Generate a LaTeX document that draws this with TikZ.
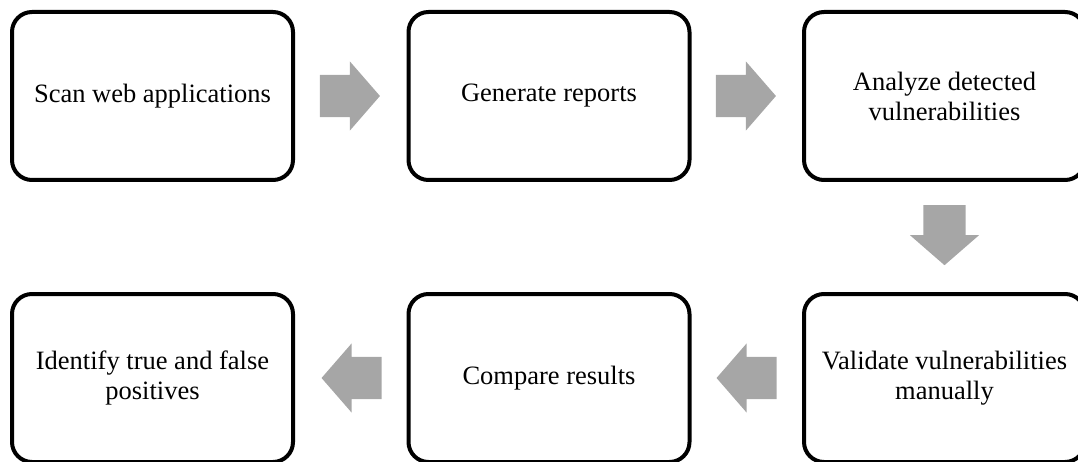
\documentclass[tikz,border=0pt]{standalone}
\usepackage{fontspec}
\setmainfont{Liberation Serif}
\usetikzlibrary{shapes.arrows,calc}
\definecolor{arrowgray}{RGB}{166,166,166}
\tikzset{
  stepbox/.style={draw=black, line width=4pt, rounded corners=20pt,
    minimum width=281pt, minimum height=168pt, align=center, inner sep=0pt,
    font=\fontsize{26.5}{30}\selectfont},
  blockarrow/.style={single arrow, fill=arrowgray, draw=none,
    inner xsep=0pt, inner ysep=21pt, anchor=tail,
    minimum height=60pt, minimum width=69pt,
    single arrow head extend=13.5pt, single arrow tip angle=98}
}
\begin{document}
\begin{tikzpicture}[x=1pt,y=1pt]
    \useasboundingbox (0,0) rectangle (1078,-462);
    % top row
    \node [stepbox] (scan) at (152.5,-96) {Scan web applications};
    \node [stepbox] (report) at (549,-96) {Generate reports};
    \node [stepbox] (analyze) at (944.5,-96) {Analyze detected\\vulnerabilities};
    % bottom row
    \node [stepbox] (validate) at (944.5,-378) {Validate vulnerabilities\\manually};
    \node [stepbox] (compare) at (549,-378) {Compare results};
    \node [stepbox] (identify) at (152.5,-378) {Identify true and false\\positives};
    % arrows, tail placed half a length before the gap's middle
    \node [blockarrow] at ($(scan.east)!0.5!(report.west)+(-31,0)$) {};
    \node [blockarrow] at ($(report.east)!0.5!(analyze.west)+(-31,0)$) {};
    \node [blockarrow, rotate=-90] at ($(analyze.south)!0.5!(validate.north)+(0,32)$) {};
    \node [blockarrow, rotate=180] at ($(validate.west)!0.5!(compare.east)+(30,0)$) {};
    \node [blockarrow, rotate=180] at ($(compare.west)!0.5!(identify.east)+(31,0)$) {};
\end{tikzpicture}
\end{document}
